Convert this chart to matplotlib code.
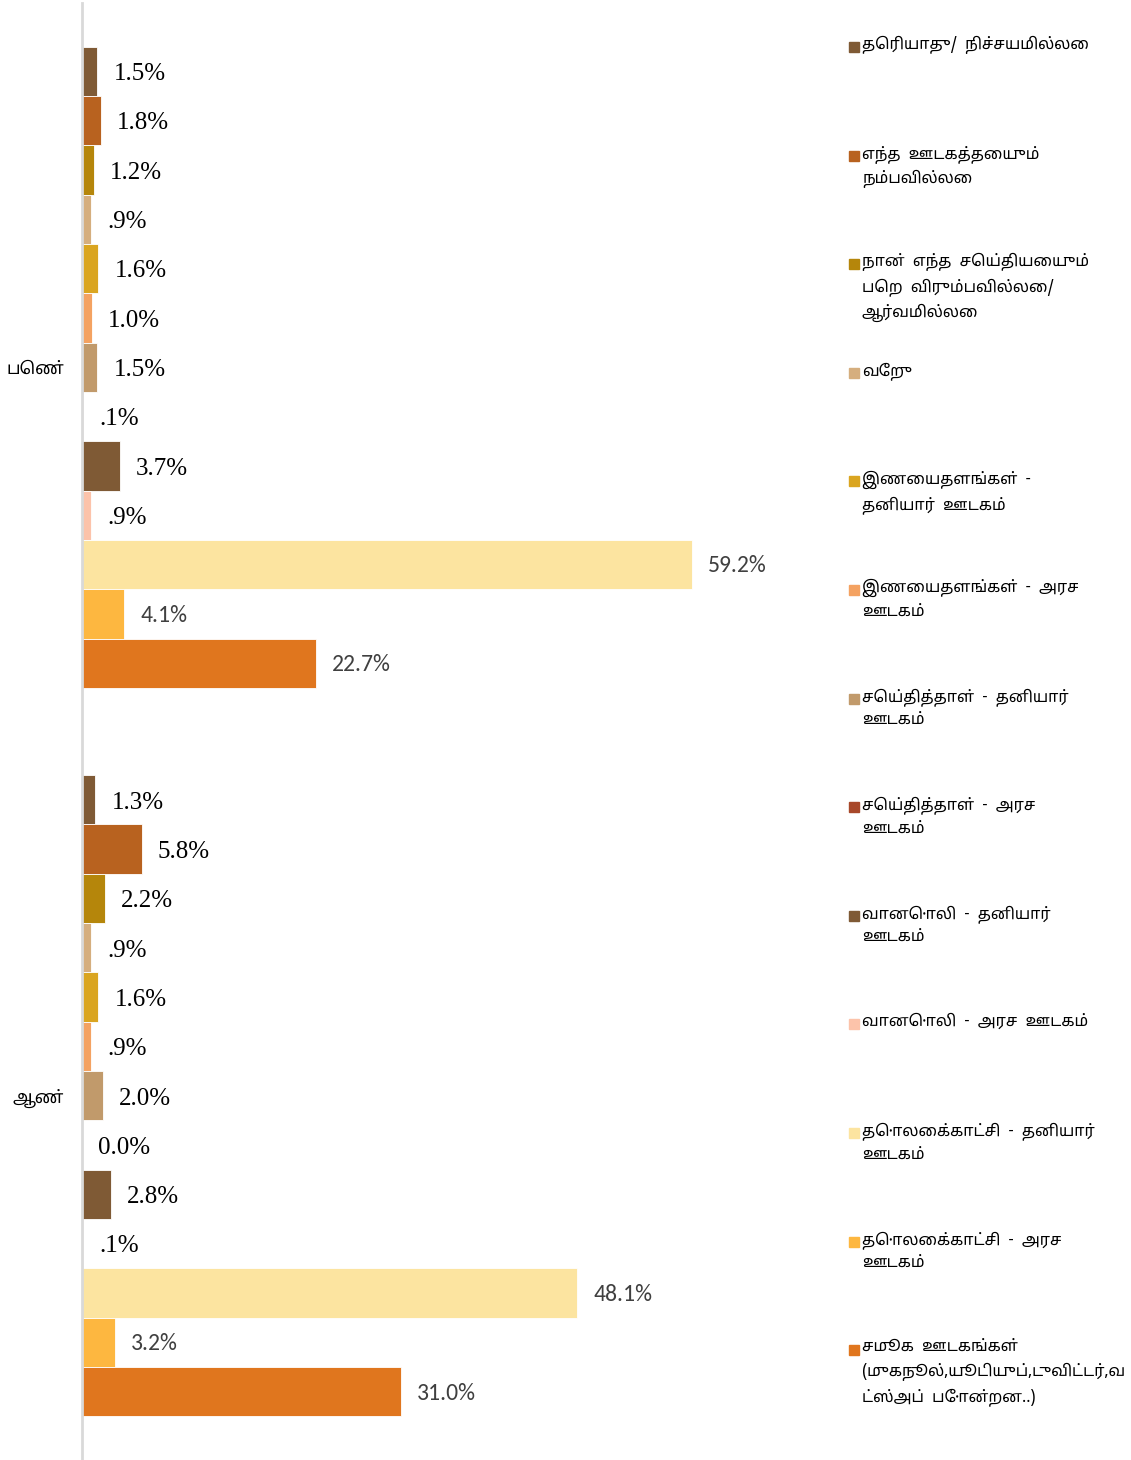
import matplotlib
matplotlib.use("Agg")
import matplotlib.pyplot as plt
from matplotlib.patches import Rectangle

# groups, top to bottom
groups = ["பெண்", "ஆண்"]

# series in the order they appear top to bottom (legend order too)
series = [
    "தெரியாது/  நிச்சயமில்லை",
    "எந்த  ஊடகத்தையும்\nநம்பவில்லை",
    "நான்  எந்த  செய்தியையும்\nபெற  விரும்பவில்லை/\nஆர்வமில்லை",
    "வேறு",
    "இணையதளங்கள்  -\nதனியார்  ஊடகம்",
    "இணையதளங்கள்  -  அரச\nஊடகம்",
    "செய்தித்தாள்  -  தனியார்\nஊடகம்",
    "செய்தித்தாள்  -  அரச\nஊடகம்",
    "வானொலி  -  தனியார்\nஊடகம்",
    "வானொலி  -  அரச  ஊடகம்",
    "தொலைக்காட்சி  -  தனியார்\nஊடகம்",
    "தொலைக்காட்சி  -  அரச\nஊடகம்",
    "சமூக  ஊடகங்கள்\n(முகநூல்,யூடியுப்,டுவிட்டர்,வ\nட்ஸ்அப்  போன்றன..)",
]
colors = ["#7f5a35", "#b8621f", "#b5860b", "#d5ae7e", "#daa520", "#f4a261",
          "#c19a6b", "#a8482a", "#7f5a35", "#fcc3aa", "#fce4a0", "#fdb740",
          "#e0761e"]

female = [1.5, 1.8, 1.2, 0.9, 1.6, 1.0, 1.5, 0.1, 3.7, 0.9, 59.2, 4.1, 22.7]
male = [1.3, 5.8, 2.2, 0.9, 1.6, 0.9, 2.0, 0.0, 2.8, 0.1, 48.1, 3.2, 31.0]

female_labels = ["1.5%", "1.8%", "1.2%", ".9%", "1.6%", "1.0%", "1.5%", ".1%",
                 "3.7%", ".9%", "59.2%", "4.1%", "22.7%"]
male_labels = ["1.3%", "5.8%", "2.2%", ".9%", "1.6%", ".9%", "2.0%", "0.0%",
               "2.8%", ".1%", "48.1%", "3.2%", "31.0%"]
# the last three series get the grey sans labels
sans_series = [10, 11, 12]

tamil = ["Noto Sans Tamil", "DejaVu Sans"]

W, H = 1131, 1460
fig = plt.figure(figsize=(W / 100, H / 100), dpi=100)
ax = fig.add_axes([82 / W, 0, 721 / W, 1457 / H])

n = len(series)
h = 0.0677
cats = [1, 0]
for vals, labs, c in [(female, female_labels, cats[0]), (male, male_labels, cats[1])]:
    for i in range(n):
        y = c + (n // 2 - i) * h
        ax.barh(y, vals[i], height=h, color=colors[i], edgecolor="white", linewidth=0.6)
        if i in sans_series:
            ax.annotate(labs[i], (vals[i], y), xytext=(11.5, -1), textcoords="offset points",
                        va="center", ha="left", fontsize=17, color="#404040",
                        family=["Carlito", "Liberation Sans", "DejaVu Sans"])
        else:
            ax.annotate(labs[i], (vals[i], y), xytext=(11.5, -2), textcoords="offset points",
                        va="center", ha="left", fontsize=18, color="black",
                        family=["Liberation Serif", "DejaVu Serif"])

ax.set_xlim(0, 70)
ax.set_ylim(-0.5, 1.5)
ax.set_xticks([])
ax.set_yticks(cats)
ax.set_yticklabels(groups, family=tamil, fontsize=12.5)
ax.tick_params(axis="y", length=0, pad=13)
for s in ["top", "right", "bottom"]:
    ax.spines[s].set_visible(False)
ax.spines["left"].set_color("#d9d9d9")
ax.spines["left"].set_linewidth(2)

# legend drawn by hand, evenly spaced like the original
for i in range(n):
    yc = 47 + i * 108.6
    fig.patches.append(Rectangle((849 / W, 1 - (yc + 5) / H), 10 / W, 10 / H,
                                 transform=fig.transFigure, color=colors[i]))
    fig.text(862 / W, 1 - (yc - 11) / H, series[i], family=tamil, fontsize=11.5,
             va="top", ha="left", linespacing=1.55)

fig.savefig("out.png", dpi=100)
